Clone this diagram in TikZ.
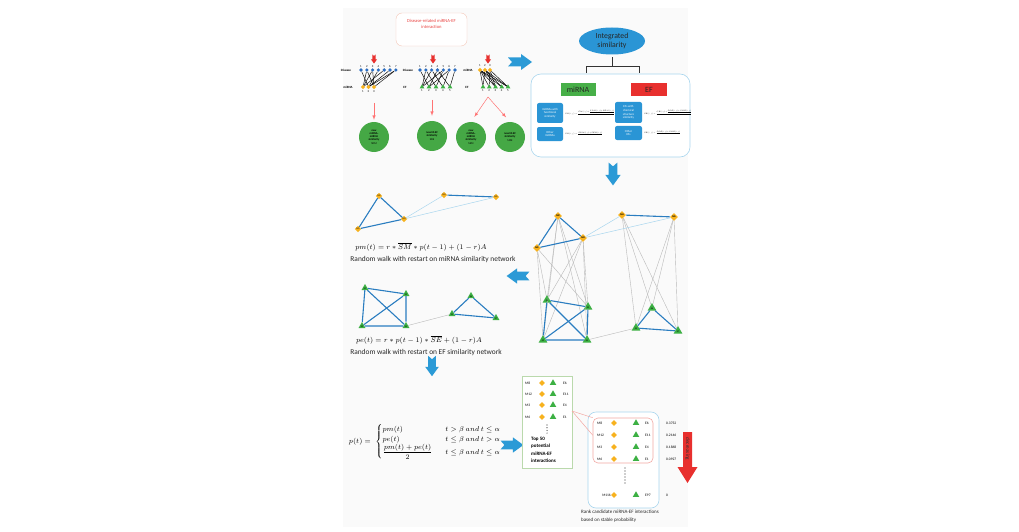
\documentclass[tikz,border=0pt]{standalone}
\usepackage{amsmath}
\usepackage{fontspec}
\setmainfont{Carlito}
\usetikzlibrary{shapes.geometric,positioning}

\definecolor{arrowblue}{HTML}{2B9AD6}
\definecolor{netblue}{HTML}{2A7DC0}
\definecolor{paleblue}{HTML}{A9D6EE}
\definecolor{disblue}{HTML}{2C6DC0}
\definecolor{mirnaorange}{HTML}{F7B21E}
\definecolor{efgreen}{HTML}{3CB043}
\definecolor{circgreen}{HTML}{45A845}
\definecolor{boxblue}{HTML}{2A95D5}
\definecolor{efred}{HTML}{E8302E}
\definecolor{simgreen}{HTML}{47AF48}
\definecolor{paleback}{HTML}{FAFAFA}
\definecolor{salmon}{HTML}{F4C7B8}
\definecolor{pinkline}{HTML}{F2A9A4}
\definecolor{palegreen}{HTML}{BAD9AC}

\tikzset{
  mnode/.style={diamond, fill=mirnaorange, inner sep=0pt, minimum size=8pt, font=\fontsize{2.4}{2.4}\selectfont},
  enode/.style={regular polygon, regular polygon sides=3, fill=efgreen, inner sep=0pt, minimum size=10pt, font=\fontsize{2.4}{2.4}\selectfont},
  dnode/.style={circle, fill=disblue, inner sep=0pt, minimum size=3.6pt},
  smnode/.style={diamond, fill=mirnaorange, inner sep=0pt, minimum size=4.6pt},
  senode/.style={regular polygon, regular polygon sides=3, fill=efgreen, inner sep=0pt, minimum size=5.4pt},
  numlab/.style={font=\fontsize{3}{3}\selectfont, inner sep=0.7pt},
  rowlab/.style={font=\bfseries\fontsize{3.2}{3.2}\selectfont, inner sep=0pt},
  bip/.style={black, line width=0.45pt},
  strong/.style={netblue, line width=1.1pt},
  weak/.style={paleblue, line width=0.5pt},
  link/.style={gray!55, line width=0.4pt},
  redline/.style={red!55, line width=0.5pt, -latex},
  simcirc/.style={circle, fill=circgreen, minimum size=30pt, inner sep=0pt, align=center, font=\bfseries\fontsize{2.8}{3.3}\selectfont},
  bluebox/.style={fill=boxblue, rounded corners=2pt, text=white, align=center, inner sep=0pt, font=\fontsize{3}{3.6}\selectfont},
  tinymath/.style={anchor=west, inner sep=0pt, scale=0.36, transform shape, font=\fontsize{5.2}{6}\selectfont},
  formula/.style={font=\fontsize{7.1}{8.5}\selectfont, inner sep=0pt},
  caption/.style={font=\fontsize{7.4}{8.5}\selectfont, text=black!85, inner sep=0pt},
  listlab/.style={font=\fontsize{3.6}{3.6}\selectfont, anchor=west, inner sep=0pt},
  lm/.style={diamond, fill=mirnaorange, inner sep=0pt, minimum size=6.5pt},
  le/.style={regular polygon, regular polygon sides=3, fill=efgreen, inner sep=0pt, minimum size=8pt},
  fatarrow/.pic={\path[pic actions] (-12,-4.5) -- (1,-4.5) -- (1,-8) -- (12,0) -- (1,8) -- (1,4.5) -- (-12,4.5) -- (-8,0) -- cycle;}
}

\begin{document}
\begin{tikzpicture}[x=1pt,y=-1pt]
\useasboundingbox (0,0) rectangle (1019,532);
\fill[paleback] (343,8) rectangle (688,527);

% disease related interactions
\node[draw=salmon, fill=white, rounded corners=6pt, minimum width=71pt, minimum height=33pt, text=efred!90, align=center, font=\fontsize{4.6}{5.8}\selectfont] (disint) at (431.5,29.5) {Disease-related miRNA-EF\\interaction\\[5pt]};

\foreach \i in {1,...,7} \node[dnode, label={[numlab]above:\i}] (ga-d\i) at ({361+5.8*(\i-1)},70) {};
\foreach \j in {1,2,3} \node[smnode, label={[numlab]below:\j}] (ga-m\j) at ({363+5.5*(\j-1)},87) {};
\foreach \a/\b in {1/2,2/1,3/1,3/3,4/2,5/1,6/2,7/2,7/3,2/3} \draw[bip] (ga-d\a) -- (ga-m\b);
\node[rowlab] (ga-dl) at (346,70) {Disease};
\node[rowlab] (ga-ml) at (348,87) {miRNA};

\foreach \i in {1,...,7} \node[dnode, label={[numlab]above:\i}] (gb-d\i) at ({420+5.83*(\i-1)},70) {};
\foreach \j in {1,...,5} \node[senode, label={[numlab]below:\j}] (gb-e\j) at ({422+7*(\j-1)},87) {};
\foreach \a/\b in {1/2,2/1,2/3,3/1,3/4,4/2,4/5,5/3,5/1,6/4,6/2,7/5} \draw[bip] (gb-d\a) -- (gb-e\b);
\node[rowlab] (gb-dl) at (408,70) {Disease};
\node[rowlab] (gb-el) at (405,87) {EF};

\foreach \i in {1,2,3} \node[smnode, label={[numlab]above:\i}] (gc-m\i) at ({480+5*(\i-1)},70) {};
\foreach \j in {1,...,5} \node[senode, label={[numlab]below:\j}] (gc-e\j) at ({483+6.25*(\j-1)},87) {};
\foreach \a/\b in {1/1,1/2,1/3,1/4,1/5,2/1,2/3,2/4,2/5,3/2,3/3,3/5} \draw[bip] (gc-m\a) -- (gc-e\b);
\node[rowlab] (gc-ml) at (468,70) {miRNA};
\node[rowlab] (gc-el) at (467,87) {EF};

\foreach \x in {374,433,488} \pic[fill=efred, rotate=-90, scale=0.38] at (\x,59) {fatarrow};

\node[simcirc] (c1) at (374,137) {new\\miRNA-\\miRNA\\similarity\\\mdseries SDM};
\node[simcirc] (c2) at (432,136) {new EF-EF\\similarity\\\mdseries SDE};
\node[simcirc] (c3) at (471,137) {new\\miRNA-\\miRNA\\similarity\\\mdseries SEM};
\node[simcirc] (c4) at (510,137) {new EF-EF\\similarity\\\mdseries SME};

\coordinate (ga-out) at (374,103);
\coordinate (gb-out) at (432,100);
\coordinate (gc-out) at (488,97);
\draw[redline, shorten >=2pt] (ga-out) -- (c1.north);
\draw[redline, shorten >=5pt] (gb-out) -- (c2.north);
\draw[redline, shorten >=6pt] (gc-out) -- (c3.north);
\draw[redline, shorten >=6pt] (gc-out) -- (c4.north);

\pic[fill=arrowblue] at (520,62) {fatarrow};

% integrated similarity
\node[ellipse, fill=boxblue, minimum width=66pt, minimum height=27pt, inner sep=0pt, align=center, text=black!85, font=\fontsize{7.8}{9}\selectfont] (integ) at (612,41) {Integrated\\similarity};
\draw[black!80, line width=0.6pt] (586,73) -- (586,66) -- (639,66) -- (639,73);
\draw[black!80, line width=0.6pt] (612,66) -- (612,57);
\node[draw=paleblue, line width=0.6pt, fill=white, rounded corners=10pt, minimum width=159pt, minimum height=83pt] (simbox) at (610.5,115.5) {};
\node[fill=simgreen, minimum width=35pt, minimum height=13pt, inner sep=0pt, text=black!85, font=\fontsize{8}{8}\selectfont] (mirna) at (578,90) {miRNA};
\node[fill=efred, minimum width=36pt, minimum height=13pt, inner sep=0pt, text=black!85, font=\fontsize{8}{8}\selectfont] (ef) at (649,90) {EF};
\node[bluebox, minimum width=26pt, minimum height=20pt] (fsim) at (550,113) {miRNAs with\\functional\\similarity};
\node[bluebox, minimum width=26pt, minimum height=14pt] (omir) at (550,134) {Other\\miRNAs};
\node[bluebox, minimum width=27pt, minimum height=21pt] (csim) at (628.5,112.5) {EFs with\\chemical\\structure\\similarity};
\node[bluebox, minimum width=27pt, minimum height=14pt] (oef) at (628.5,133) {Other\\EFs};
\node[tinymath] (fm1) at (565,113) {$SM(i,j)=\frac{FM(i,j)+\frac{SDM(i,j)+SEM(i,j)}{2}}{2}$};
\node[tinymath] (fm2) at (565,134) {$SM(i,j)=\frac{SDM(i,j)+SEM(i,j)}{2}$};
\node[tinymath] (fe1) at (644,113) {$SE(i,j)=\frac{CE(i,j)+\frac{SDE(i,j)+SME(i,j)}{2}}{2}$};
\node[tinymath] (fe2) at (644,133) {$SE(i,j)=\frac{SDE(i,j)+SME(i,j)}{2}$};

\pic[fill=arrowblue, rotate=-90, scale=0.95] at (613,174) {fatarrow};

% miRNA similarity network
\node[lm] (lm1) at (358,229) {}; \node[lm] (lm2) at (379,196) {}; \node[lm] (lm3) at (404,219) {};
\node[lm] (lm4) at (444,195) {}; \node[lm] (lm5) at (496,197) {};
\draw[strong] (lm1) -- (lm2) -- (lm3) -- (lm1);
\draw[strong] (lm4) -- (lm5);
\draw[weak] (lm3) -- (lm4); \draw[weak] (lm3) -- (lm5);
\foreach \n in {1,...,5} \node[font=\fontsize{2.4}{2.4}\selectfont, inner sep=0pt] at (lm\n) {M\n};
\node[formula] (pmf) at (421,247) {$pm(t)=r*\overline{SM}*p(t-1)+(1-r)A$};
\node[caption] (pmcap) at (433,260) {Random walk with restart on miRNA similarity network};

\pic[fill=arrowblue, rotate=180, scale=0.95] at (518,276) {fatarrow};

% EF similarity network
\node[le] (le1) at (365,288) {}; \node[le] (le2) at (406,294) {}; \node[le] (le3) at (362,326) {};
\node[le] (le4) at (406,326) {}; \node[le] (le5) at (452,314) {}; \node[le] (le6) at (471,296) {};
\node[le] (le7) at (496,318) {};
\draw[strong] (le1) -- (le2) -- (le4) -- (le3) -- (le1) -- (le4);
\draw[strong] (le2) -- (le3);
\draw[strong] (le5) -- (le6) -- (le7) -- (le5);
\draw[link] (le4) -- (le5);
\foreach \n in {1,...,7} \node[font=\fontsize{2.4}{2.4}\selectfont, inner sep=0pt] at ([yshift=-1pt]le\n) {E\n};
\node[formula] (pef) at (419,340) {$pe(t)=r*p(t-1)*\overline{SE}+(1-r)A$};
\node[caption] (pecap) at (426,353) {Random walk with restart on EF similarity network};

% heterogeneous network
\node[mnode] (rm1) at (537,248) {M1}; \node[mnode] (rm2) at (558,216) {M2}; \node[mnode] (rm3) at (583,238) {M3};
\node[mnode] (rm4) at (622,215) {M4}; \node[mnode] (rm5) at (674,217) {M5};
\node[enode] (re1) at (547,300) {}; \node[enode] (re2) at (588,307) {}; \node[enode] (re3) at (543,340) {};
\node[enode] (re4) at (587,340) {}; \node[enode] (re5) at (636,328) {}; \node[enode] (re6) at (652,308) {};
\node[enode] (re7) at (678,331) {};
\foreach \a/\b in {1/1,1/3,1/2,2/1,2/2,2/4,2/3,3/1,3/3,3/4,3/2,4/5,4/6,4/7,5/5,5/6,5/7} \draw[link] (rm\a) -- (re\b);
\draw[strong] (rm1) -- (rm2) -- (rm3) -- (rm1);
\draw[strong] (rm4) -- (rm5);
\draw[weak] (rm3) -- (rm4); \draw[weak] (rm3) -- (rm5);
\draw[strong] (re1) -- (re2) -- (re4) -- (re3) -- (re1) -- (re4);
\draw[strong] (re2) -- (re3);
\draw[strong] (re5) -- (re6) -- (re7) -- (re5);
\draw[link] (re4) -- (re5);
\foreach \n in {1,...,7} \node[font=\fontsize{2.4}{2.4}\selectfont, inner sep=0pt] at ([yshift=-1pt]re\n) {E\n};
\foreach \n in {1,...,5} \node[font=\fontsize{2.4}{2.4}\selectfont, inner sep=0pt] at (rm\n) {M\n};

\pic[fill=arrowblue, rotate=-90, scale=0.85] at (432,366) {fatarrow};

% combined probability
\node[formula] (ptf) at (425,442) {$p(t)=\;\left\{\renewcommand{\arraystretch}{1.15}\begin{array}{@{}l@{\hspace{13pt}}l@{}} pm(t) & t>\beta\ and\ t\le\alpha\\ pe(t) & t\le\beta\ and\ t>\alpha\\ \dfrac{pm(t)+pe(t)}{2} & t\le\beta\ and\ t\le\alpha \end{array}\right.$};

\pic[fill=arrowblue, scale=0.95] at (512,445) {fatarrow};

% top 50 list
\node[draw=palegreen, line width=0.6pt, fill=white, minimum width=50pt, minimum height=92pt, inner sep=0pt] (top) at (547,422) {};
\foreach \m/\e/\y in {M8/E6/383, M12/E11/394, M3/E4/405, M6/E1/417} {
  \node[listlab] at (525,\y) {\m};
  \node[lm, minimum size=6pt] (tm\m) at (542,\y) {};
  \node[le, minimum size=7.5pt] (te\e) at (553,\y) {};
  \node[listlab] at (563,\y) {\e};
}
\foreach \y in {425,427.7,430.4,433.1} \fill[black!80] (547,\y) circle (0.6pt);
\node[anchor=north west, align=left, inner sep=0pt, font=\bfseries\fontsize{5}{7.3}\selectfont] (toptxt) at (531,437) {Top 50\\potential\\miRNA-EF\\interactions};

% ranked list
\node[draw=paleblue, line width=0.6pt, fill=white, rounded corners=8pt, minimum width=71pt, minimum height=96pt, inner sep=0pt] (rank) at (623.5,460) {};
\node[draw=pinkline, line width=0.6pt, rounded corners=5pt, minimum width=60pt, minimum height=45pt, inner sep=0pt] (rankin) at (623,440.5) {};
\coordinate (callout) at (572,411);
\draw[pinkline, line width=0.5pt] (callout) -- (rankin.north west);
\draw[pinkline, line width=0.5pt] (callout) -- (rankin.170);
\foreach \m/\e/\s/\y in {M8/E6/0.3752/423, M12/E11/0.2146/435, M3/E4/0.1868/447, M6/E1/0.0927/459} {
  \node[listlab] at (597,\y) {\m};
  \node[lm, minimum size=6pt] (rm\m) at (614,\y) {};
  \node[le, minimum size=7.5pt] (rk\e) at (636,\y) {};
  \node[listlab] at (645,\y) {\e};
  \node[listlab] at (666,\y) {\s};
}
\foreach \y in {468,471,474,477,480,483} \fill[black!80] (625,\y) circle (0.6pt);
\node[listlab, anchor=east] at (611,495) {M116};
\node[lm, minimum size=6pt] (rmlast) at (614,495) {};
\node[le, minimum size=7.5pt] (rklast) at (636,495) {};
\node[listlab] at (645,495) {E97};
\node[listlab] at (666,495) {0};

\fill[efred] (683,432) -- (692,432) -- (692,467) -- (697.5,467) -- (687.5,483) -- (677.5,467) -- (683,467) -- cycle;
\node[rotate=-90, inner sep=0pt, text=black!80, font=\fontsize{5.2}{5.2}\selectfont] (decr) at (687.5,449) {decreasing};

\node[anchor=north west, align=left, inner sep=0pt, text=black!85, font=\fontsize{5}{7.5}\selectfont] (rankcap) at (581,510) {Rank candidate miRNA-EF interactions\\based on stable probability};
\end{tikzpicture}
\end{document}
